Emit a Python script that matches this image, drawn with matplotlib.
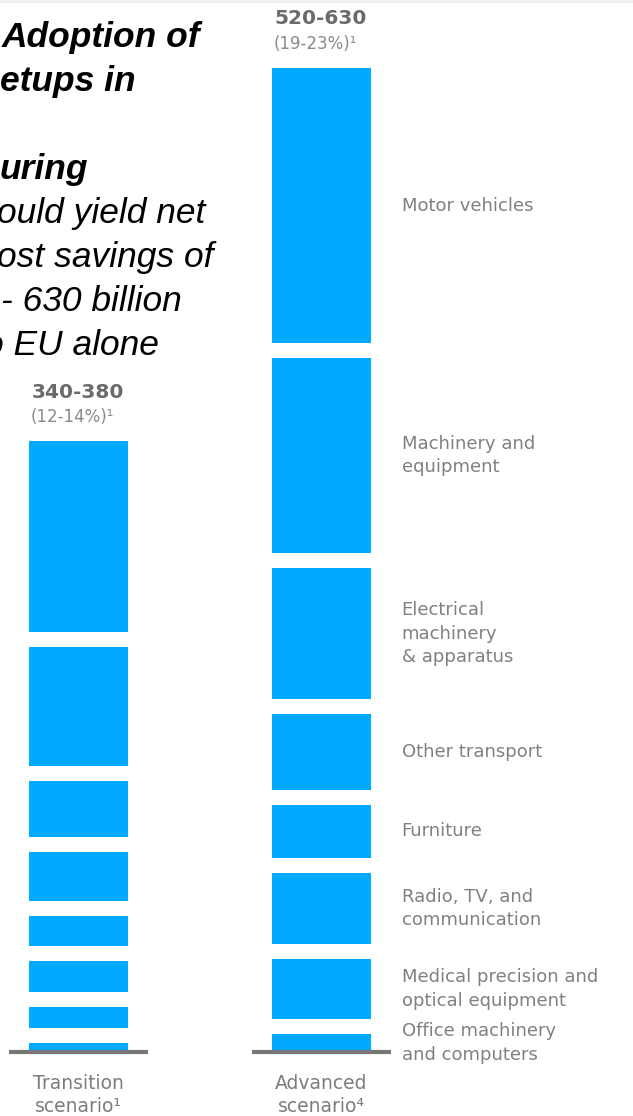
import matplotlib.pyplot as plt
from matplotlib.patches import Rectangle
import numpy as np

# net material cost savings by sector, EUR billion (top of stack first)
sectors = ["Motor vehicles", "Machinery and\nequipment",
           "Electrical\nmachinery\n& apparatus", "Other transport",
           "Furniture", "Radio, TV, and\ncommunication",
           "Medical precision and\noptical equipment",
           "Office machinery\nand computers"]
transition = [137, 85, 40, 35, 22, 22, 15, 6.5]
advanced = [197, 140, 94, 54, 38, 51, 43, 13]

scenarios = ["Transition\nscenario\u00b9", "Advanced\nscenario\u2074"]
totals = ["340-380", "520-630"]
shares = ["(12-14%)\u00b9", "(19-23%)\u00b9"]

title_bold = ["Adoption of", "etups in", "", "uring"]
title_rest = ["ould yield net", "ost savings of", "- 630 billion", "o EU alone"]

BLUE = "#00aaff"
PX = 1.395        # pixels per EUR billion
GAP = 15 / PX     # space between stacked blocks

W, H = 633, 1116
fig = plt.figure(figsize=(W / 100, H / 100), dpi=100)
ax = fig.add_axes([0, 0, 1, 1])
ax.set_xlim(-78.5 / 243, (W - 78.5) / 243)
ax.set_ylim((1052 - H) / PX, 1052 / PX)
ax.axis("off")

fig.add_artist(Rectangle((0, 1 - 3 / H), 1, 3 / H, transform=fig.transFigure,
                         color="#efefef", lw=0))

width = 0.407
for i, vals in enumerate([transition, advanced]):
    stack = vals[::-1]
    bottoms = np.cumsum([0] + [v + GAP for v in stack[:-1]])
    ax.bar([i] * len(stack), stack, bottom=bottoms, width=width,
           color=BLUE, linewidth=0)
    top = bottoms[-1] + stack[-1]
    ax.hlines(0, i - 0.288, i + 0.288, color="#777777", lw=3, zorder=3)

    ax.annotate(totals[i], (i - width / 2, top), xytext=(2, 35.5),
                textcoords="offset points", ha="left", va="center",
                fontsize=14.5, fontweight="bold", color="#6a6a6a",
                family="DejaVu Sans")
    ax.annotate(shares[i], (i - width / 2, top), xytext=(1, 17.5),
                textcoords="offset points", ha="left", va="center",
                fontsize=12, color="#8a8a8a", family="DejaVu Sans")
    ax.annotate(scenarios[i], (i, 0), xytext=(0, -31),
                textcoords="offset points", ha="center", va="center",
                fontsize=13.5, color="#7d7d7d", family="DejaVu Sans",
                linespacing=1.3)

    if i == 1:
        mids = bottoms + np.array(stack) / 2
        for name, m in zip(sectors[::-1], mids):
            ax.annotate(name, (i + width / 2, m), xytext=(22, 0),
                        textcoords="offset points", ha="left", va="center",
                        fontsize=13, color="#808080", family="DejaVu Sans",
                        linespacing=1.4)

# headline, cut off at the left edge
xs_bold = [2, 0, 0, 0]
for k, (txt, x) in enumerate(zip(title_bold, xs_bold)):
    fig.text(x / W, 1 - (47 + 44 * k) / H, txt, ha="left", va="baseline",
             fontsize=25.5, fontweight="bold", fontstyle="italic",
             family="Liberation Sans", color="black")
xs_rest = [-3, -3, 1, -16.5]
for k, (txt, x) in enumerate(zip(title_rest, xs_rest)):
    fig.text(x / W, 1 - (223 + 44 * k) / H, txt, ha="left", va="baseline",
             fontsize=25.5, fontstyle="italic", family="Liberation Sans",
             color="black")

fig.savefig("out.png", dpi=100)
